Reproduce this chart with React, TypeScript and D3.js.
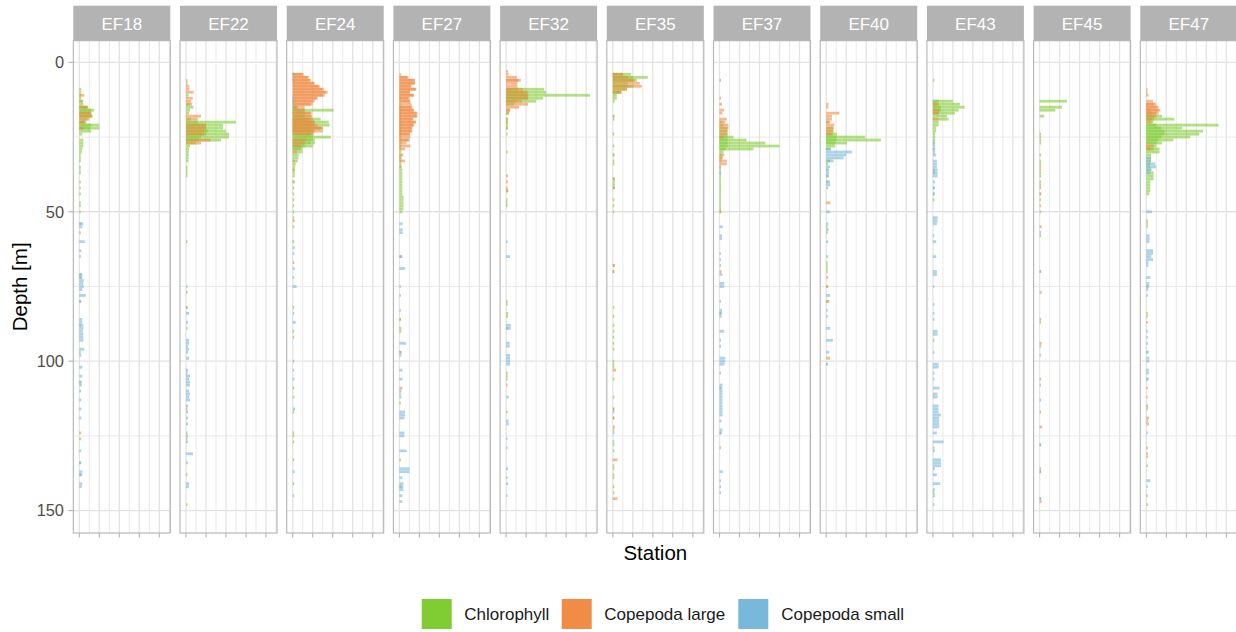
import React from "react";
import * as d3 from "d3";

type Pt = [number, number]; // [depth in m, relative abundance]

const STATIONS = ["EF18", "EF22", "EF24", "EF27", "EF32", "EF35", "EF37", "EF40", "EF43", "EF45", "EF47"];
const GROUPS = ["Chlorophyll", "Copepoda large", "Copepoda small"];
const GROUP_COLORS = ["#80CC33", "#F08C46", "#78B8DB"];
const DEPTH_TICKS = [0, 50, 100, 150];
const DEPTH_MINOR = [25, 75, 125];
const VALUE_TICKS = [0, 20, 40, 60, 80];
const VALUE_MINOR = [10, 30, 50, 70, 90];

// ---- EF18
const EF18_CHL: Pt[] = [[9,2],[10,2],[11,2],[12,2],[13,4],[14,4],[15,9],[15,8],[16,15],[16,12],[17,12],[17,11],[18,13],[18,12],[19,8],[20,6],[20,5],[21,20],[21,12],[22,20],[22,11],[23,12],[24,3],[26,4],[27,4],[28,4],[29,3],[30,2.5],[31,1.5],[32,1.5],[33,1.5],[35,1.5],[37,1.5],[40,1.5],[42,1.5],[44,1.5],[47,1.5],[48,1.5],[50,1.5],[54,2],[57,1.5],[71,2],[72,2],[80,1.5],[88,1.5],[97,1.5],[107,1.5],[126,2],[134,1.5],[138,2]];
const EF18_LARGE: Pt[] = [[11,5],[13,3],[15,8],[17,12],[18,13],[19,10],[20,7],[22,4],[124,2]];
const EF18_SMALL: Pt[] = [[36,1.5],[54,4],[55,3],[60,5.5],[63,2],[65,1.5],[71,3],[72,3],[73,4.5],[74,4],[75,4.5],[76,3],[78,6.5],[80,2],[86,3],[87,3],[88,4],[89,4],[90,3.5],[91,4],[92,4],[93,4],[96,5],[98,2],[102,3],[105,3],[107,2.5],[108,2.5],[110,2],[113,2],[116,2],[119,2],[130,2],[134,2],[137,3],[138,3],[141,3],[142,2.5]];

// ---- EF22
const EF22_CHL: Pt[] = [[6,1.5],[7,1.5],[11,2.7],[14,4],[15,7.5],[16,4],[17,3],[19,5],[20,50],[20,12],[21,37],[21,20],[22,37],[22,20],[23,40],[23,22],[24,43],[24,20],[25,43],[25,15],[26,35],[26,13],[27,10],[28,4],[29,3],[30,2.7],[31,2.7],[32,2.5],[33,2.5],[35,1.5],[36,1.5],[37,1.5],[38,1.5],[60,1.5],[77,1.5],[82,1.5],[89,1.5],[124,1.5],[138,1.5],[148,1.5]];
const EF22_LARGE: Pt[] = [[8,3.3],[9,3.3],[10,7.7],[12,6.7],[13,5],[14,6],[18,15],[19,11.7],[21,20],[22,20],[23,18],[24,18],[26,25],[27,15],[82,1.5],[104,1.5],[116,1.5],[126,1.5]];
const EF22_SMALL: Pt[] = [[75,1.5],[84,3],[87,2],[93,3],[94,3],[95,2],[96,3],[97,2],[99,3],[103,2],[105,4],[106,3],[107,4],[108,4],[110,3],[111,4],[112,3],[113,4],[115,2],[117,2],[119,2],[121,2],[125,2],[127,2],[131,7],[134,2],[141,3],[142,3]];

// ---- EF24
const EF24_CHL: Pt[] = [[4,2],[6,2],[13,2],[15,5],[15,4],[16,41],[16,12],[17,12],[18,19],[18,12],[19,28],[19,15],[20,36],[20,22],[21,37],[21,20],[22,30],[22,18],[23,21],[23,20],[24,21],[24,18],[25,38],[25,20],[26,22],[26,20],[27,22],[27,18],[28,20],[28,12],[29,10],[29,8],[30,10],[31,6],[32,5.7],[33,5],[34,3],[35,2.5],[36,2],[37,2],[38,2],[40,2],[42,1.5],[44,1.5],[46,1.5],[48,1.5],[50,1.5],[52,1.5],[55,1.5],[60,1.5],[82,1.5],[90,1.5],[109,1.5],[112,1.5],[117,1.5],[124,1.5],[127,1.5],[133,1.5],[141,1.5]];
const EF24_LARGE: Pt[] = [[4,11],[4,10],[5,16],[5,15],[6,18],[6,17],[7,22],[7,21],[8,27],[8,26],[9,31],[9,30],[10,35],[10,33],[11,32],[11,30],[12,25],[12,24],[13,22],[13,20],[14,20],[14,18],[15,12],[16,12],[17,19],[17,18],[18,19],[19,20],[19,18],[20,22],[20,20],[21,25],[21,22],[22,30],[22,28],[23,30],[23,22],[24,20],[26,14],[27,12],[28,8],[30,4],[33,2],[36,2],[40,1.5],[53,2],[67,1.5],[92,1.5],[125,1.5]];
const EF24_SMALL: Pt[] = [[4,1.5],[12,1.5],[14,1.5],[62,2],[64,1.5],[69,2],[72,1.5],[75,4],[84,1.5],[87,3],[100,1.5],[103,1.5],[106,1.5],[116,2.5],[137,2],[145,1.5]];

// ---- EF27
const EF27_CHL: Pt[] = [[12,1.5],[14,1.5],[15,2],[16,2],[17,2],[18,2],[19,2],[20,2],[21,2],[22,2],[23,2],[24,2],[25,2],[26,2],[27,2],[28,2],[29,2],[30,2],[31,2],[32,2],[33,2],[34,2],[35,2],[36,3],[37,3],[38,3],[39,3],[40,3],[41,3],[42,3],[43,3],[44,3],[45,4],[46,4],[47,4],[48,4],[49,4],[50,3],[65,2],[86,1.5],[89,2],[90,2],[111,1.5],[114,1.5],[133,1.5],[142,2]];
const EF27_LARGE: Pt[] = [[4,1.5],[5,9],[5,8],[6,15.7],[6,15],[7,15.7],[7,15],[8,12],[8,11],[9,17],[9,16],[10,10.7],[10,10],[11,14.7],[11,14],[12,10],[12,9],[13,11],[13,10],[14,12],[15,13],[15,12],[16,14.7],[16,14],[17,18],[17,17],[18,18],[18,17],[19,14],[19,13],[20,16.7],[20,16],[21,14.7],[21,14],[22,13],[22,12],[23,13],[23,12],[24,10.7],[24,10],[25,11],[26,10],[26,9],[27,7],[28,11],[29,5.7],[31,4],[32,2],[33,5.7],[35,2],[86,1.5],[97,2],[109,3]];
const EF27_SMALL: Pt[] = [[54,3.3],[56,3.3],[57,3.3],[65,3],[69,5.7],[75,1.5],[78,1.5],[83,1.5],[94,6.7],[97,2],[98,2],[103,3],[106,3],[110,2],[112,2],[117,5.7],[118,5.7],[119,5],[124,5],[125,5],[130,7.3],[136,10],[137,10],[139,3],[141,4],[142,4],[143,4],[145,3],[147,3]];

// ---- EF32
const EF32_CHL: Pt[] = [[9,38],[9,12],[10,40],[10,20],[11,84],[11,22],[12,37],[12,22],[13,30],[13,10],[14,8],[16,4],[17,3],[19,2],[20,2],[21,2],[22,2],[24,1.5],[30,1.5],[43,2],[46,1.5],[47,1.5],[48,1.5],[80,1.5],[81,1.5],[84,2],[85,2],[89,2],[104,1.5],[106,1.5],[117,1.5],[139,1.5]];
const EF32_LARGE: Pt[] = [[3,2],[4,2.3],[5,10.7],[6,14.7],[6,12],[7,11.3],[8,11.3],[9,16.7],[10,22],[11,22],[12,22],[13,16],[14,22],[15,13],[16,4],[17,3],[19,1.5],[20,1.5],[22,1.5],[38,2],[40,2],[42,1.5],[43,2],[105,1.5],[108,1.5]];
const EF32_SMALL: Pt[] = [[60,1.5],[65,4],[88,4.7],[89,4.7],[94,3.5],[95,3.5],[98,4],[99,4],[100,4],[101,4],[112,2.5],[120,2.5],[121,2.5],[126,1.5],[129,1.5],[136,2],[141,2],[145,1.5]];

// ---- EF35
const EF35_CHL: Pt[] = [[4,18],[4,10],[5,35],[5,20],[6,24],[6,20],[7,15],[8,20.7],[8,15],[9,14],[10,9],[10,8],[11,4],[12,4],[13,2],[18,1.5],[19,1.5],[24,1.5],[28,1.5],[31,1.5],[34,1.5],[39,2],[40,2],[41,2],[42,2],[48,1.5],[50,1.5],[68,2],[70,1.5],[82,1.5],[88,1.5],[90,1.5],[92,1.5],[94,1.5],[96,1.5],[100,1.5],[101,1.5],[102,1.5],[106,1.5],[116,1.5],[119,1.5],[123,1.5],[128,1.5],[136,1.5],[139,1.5],[142,1.5]];
const EF35_LARGE: Pt[] = [[4,10],[5,15],[6,22],[7,27],[8,29],[9,14],[10,8],[18,1.5],[31,1.5],[33,1.5],[39,2],[42,2],[46,1.5],[68,2],[70,1.5],[85,1.5],[103,3.3],[112,1.5],[116,1.5],[119,1.5],[122,2],[133,4.7],[135,1.5],[138,1.5],[144,1.5],[146,4.7]];
const EF35_SMALL: Pt[] = [[117,1.5],[124,1.5],[127,1.5],[130,1.5]];

// ---- EF37
const EF37_CHL: Pt[] = [[6,1.5],[20,3],[21,4],[22,8],[23,8],[24,8],[25,14],[25,8],[26,27],[26,8],[27,45.7],[27,8],[28,60],[28,8],[29,34],[29,6],[30,4],[31,3],[32,3],[33,2],[35,1.5],[36,1.5],[37,1.5],[38,1.5],[39,1.5],[40,1.5],[41,1.5],[42,1.5],[43,1.5],[44,1.5],[45,1.5],[46,1.5],[47,1.5],[48,1.5],[49,1.5],[50,1.5],[84,1.5],[95,1.5],[109,1.5],[124,1.5]];
const EF37_LARGE: Pt[] = [[12,1.5],[14,2.5],[16,4.7],[17,3],[19,7.3],[20,5.7],[21,9],[22,9],[23,8],[24,8],[25,4],[31,4.7],[32,3],[33,7.3],[34,7.3],[50,2],[70,2],[104,1.5],[129,1.5]];
const EF37_SMALL: Pt[] = [[35,1.5],[37,1.5],[55,3.3],[58,2.5],[59,2.5],[64,1.5],[66,1.5],[68,1.5],[71,3],[74,4.7],[75,4.7],[80,1.5],[83,2.5],[84,2.5],[85,2],[90,4.7],[93,1.5],[99,5.7],[100,5.7],[101,5],[108,3],[109,3],[110,3],[111,3],[112,3],[113,3],[114,3],[115,3],[116,3],[117,3],[118,3],[120,2],[123,3],[124,2.5],[137,3.3],[140,1.5],[142,1.5],[144,1.5]];

// ---- EF40
const EF40_CHL: Pt[] = [[20,3],[22,7.3],[23,7],[24,10.7],[24,7],[25,39],[25,10],[26,54.7],[26,10],[27,20.7],[27,9],[28,9],[29,4],[33,4],[34,2],[36,1.5],[38,2],[40,2],[55,1.5],[57,1.5],[67,1.5],[68,1.5],[69,1.5],[70,1.5],[75,1.5],[80,2],[101,1.5]];
const EF40_LARGE: Pt[] = [[14,2.3],[15,2.3],[17,13.3],[18,5.7],[19,5.7],[20,4],[21,8],[22,7.3],[23,7.3],[24,5],[47,4],[72,2],[75,2],[80,3],[99,4]];
const EF40_SMALL: Pt[] = [[29,4.7],[30,25.7],[31,20],[32,17.3],[33,7.3],[35,4],[36,3],[37,3],[38,2.7],[40,4],[41,4],[42,2],[50,4],[54,2],[56,2.5],[60,2],[65,2],[78,4],[83,1.5],[85,1.5],[89,4],[93,6.7],[97,3],[101,1.5]];

// ---- EF43
const EF43_CHL: Pt[] = [[6,1.5],[13,20],[13,6],[14,27],[14,6],[15,31.7],[15,8],[16,25.7],[16,8],[17,22],[17,6],[18,14],[19,15.7],[20,5.7],[21,5.7],[22,3.3],[23,3.3],[24,2.3],[25,2.3],[26,2.3],[27,1.5],[29,1.5],[36,2],[37,2],[42,1.5],[44,1.5],[46,1.5],[93,1.5],[129,1.5],[144,1.5]];
const EF43_LARGE: Pt[] = [[14,4],[16,6.7],[17,5.7],[19,5.7]];
const EF43_SMALL: Pt[] = [[27,2.3],[28,2.3],[29,2.3],[30,2.3],[31,3.3],[33,4],[34,4],[35,4],[36,4.7],[37,4.7],[38,4.7],[40,2],[42,2],[44,2],[52,4.7],[53,4.7],[54,4],[58,1.5],[60,3.3],[65,3.3],[70,4],[71,4],[75,1.5],[81,1.5],[84,1.5],[86,1.5],[90,4.7],[91,4.7],[97,1.5],[101,5.7],[102,5.7],[104,1.5],[106,1.5],[109,6.7],[111,4.7],[112,4.7],[115,5.7],[116,5.7],[117,5.7],[118,8],[119,6.3],[120,6.3],[121,6.3],[122,6.3],[124,4],[127,10.7],[130,2],[133,8],[134,8],[135,8],[136,2],[138,4],[141,7.3],[143,2],[145,2],[148,1.5]];

// ---- EF45
const EF45_CHL: Pt[] = [[13,27.3],[15,22.3],[16,15.7],[18,4.7],[24,1.5],[25,1.5],[26,1.5],[27,1.5],[31,1.5],[33,1.5],[34,1.5],[36,1.5],[37,1.5],[38,1.5],[40,1.5],[44,1.5],[46,1.5],[50,1.5],[58,1.5],[70,1.5],[87,1.5],[95,1.5],[106,1.5],[128,1.5],[137,1.5],[146,1.5]];
const EF45_LARGE: Pt[] = [[35,1.5],[41,1.5],[42,1.5],[44,1.5],[48,1.5],[55,2],[77,2],[86,1.5],[94,2],[117,1.5],[122,2.7],[136,1.5],[147,2]];
const EF45_SMALL: Pt[] = [[57,1.5],[70,1.5],[98,1.5],[108,1.5],[113,1.5],[128,1.5],[137,1.5],[146,1.5]];

// ---- EF47
const EF47_CHL: Pt[] = [[14,2],[16,4],[17,6],[18,15.7],[18,8],[19,28],[19,8],[20,7],[21,72.3],[21,10],[22,35.7],[22,15],[23,56.7],[23,18],[24,53],[24,18],[25,44],[25,15],[26,27],[26,12],[27,15.7],[27,10],[28,10],[29,13.3],[29,8],[30,13.3],[31,4.7],[32,4.7],[33,4.7],[34,4],[35,4],[36,5],[37,7.3],[38,7.3],[39,7.3],[40,4],[41,4],[42,4],[43,4],[44,3],[53,1.5],[55,1.5],[75,1.5],[84,1.5],[85,1.5],[97,1.5],[106,1.5],[115,1.5],[135,1.5],[145,1.5],[148,1.5]];
const EF47_LARGE: Pt[] = [[9,1.3],[10,1.3],[11,2.3],[13,6.7],[14,10],[14,8],[15,12.3],[15,10],[16,14],[16,12],[17,12.3],[17,10],[18,10],[19,6],[20,5],[28,7.3],[29,4.7],[54,1.5],[87,1.5],[109,1.5],[112,1.5],[116,1.5],[119,2.7],[121,2.7],[129,1.5],[131,1.5],[132,1.5]];
const EF47_SMALL: Pt[] = [[32,4.7],[33,4.7],[34,9],[35,10],[36,5],[37,4],[50,5.7],[58,3.3],[59,3.3],[60,3.3],[63,6.7],[64,6.7],[65,5],[66,6.7],[67,2],[68,2],[72,4],[74,3],[75,3],[76,2],[78,1.5],[90,1.5],[92,1.5],[94,1.5],[97,2.5],[99,3],[100,3],[103,2.5],[104,2.5],[106,2.5],[115,1.5],[120,2],[124,1.5],[140,4],[142,1.5]];

const PROFILES: Record<string, Pt[][]> = {
  EF18: [EF18_CHL, EF18_LARGE, EF18_SMALL],
  EF22: [EF22_CHL, EF22_LARGE, EF22_SMALL],
  EF24: [EF24_CHL, EF24_LARGE, EF24_SMALL],
  EF27: [EF27_CHL, EF27_LARGE, EF27_SMALL],
  EF32: [EF32_CHL, EF32_LARGE, EF32_SMALL],
  EF35: [EF35_CHL, EF35_LARGE, EF35_SMALL],
  EF37: [EF37_CHL, EF37_LARGE, EF37_SMALL],
  EF40: [EF40_CHL, EF40_LARGE, EF40_SMALL],
  EF43: [EF43_CHL, EF43_LARGE, EF43_SMALL],
  EF45: [EF45_CHL, EF45_LARGE, EF45_SMALL],
  EF47: [EF47_CHL, EF47_LARGE, EF47_SMALL],
};

const W = 1236;
const H = 632;
const FONT = "'Liberation Sans', Arial, Helvetica, sans-serif";
const PANEL_TOP = 40.7;
const PANEL_BOTTOM = 533;
const STRIP_TOP = 5.7;
const GRID = "#E3E3E3";
const BORDER = "#B3B3B3";
const BAR_ALPHA = 0.6;
const BAR_WIDTH = 0.95; // in metres

const LEGEND_ITEMS = [
  { key: 421.7, text: 464.3 },
  { key: 561.7, text: 604.3 },
  { key: 738.3, text: 781.3 },
];

export default function App() {
  const xBand = d3.scaleBand<string>().domain(STATIONS).range([73.3, 1237.3]).paddingInner(0.0909).paddingOuter(0);
  const y = d3.scaleLinear().domain([-7.25, 157.5]).range([PANEL_TOP, PANEL_BOTTOM]);
  const bw = xBand.bandwidth();

  return (
    <svg width={W} height={H} style={{ position: "absolute", left: 0, top: 0, background: "#FFFFFF" }} fontFamily={FONT}>
      <rect x={0} y={0} width={W} height={H} fill="#FFFFFF" />
      {STATIONS.map((st) => {
        const left = xBand(st)!;
        const x = d3.scaleLinear().domain([-6, 91]).range([left, left + bw]);
        const series = PROFILES[st];
        return (
          <g key={st}>
            {/* grid */}
            {VALUE_MINOR.map((v) => (
              <line key={"vm" + v} x1={x(v)} x2={x(v)} y1={PANEL_TOP} y2={PANEL_BOTTOM} stroke={GRID} strokeWidth={0.8} />
            ))}
            {DEPTH_MINOR.map((d) => (
              <line key={"hm" + d} x1={left} x2={left + bw} y1={y(d)} y2={y(d)} stroke={GRID} strokeWidth={0.8} />
            ))}
            {VALUE_TICKS.map((v) => (
              <line key={"vM" + v} x1={x(v)} x2={x(v)} y1={PANEL_TOP} y2={PANEL_BOTTOM} stroke={GRID} strokeWidth={1.3} />
            ))}
            {DEPTH_TICKS.map((d) => (
              <line key={"hM" + d} x1={left} x2={left + bw} y1={y(d)} y2={y(d)} stroke={GRID} strokeWidth={1.3} />
            ))}
            {/* bars */}
            {series.map((pts, gi) =>
              pts.map(([d, v], i) => (
                <rect
                  key={gi + "-" + i}
                  x={x(0)}
                  y={y(d - BAR_WIDTH / 2)}
                  width={x(v) - x(0)}
                  height={y(d + BAR_WIDTH / 2) - y(d - BAR_WIDTH / 2)}
                  fill={GROUP_COLORS[gi]}
                  fillOpacity={BAR_ALPHA}
                />
              ))
            )}
            {/* border */}
            <rect x={left} y={PANEL_TOP} width={bw} height={PANEL_BOTTOM - PANEL_TOP} fill="none" stroke={BORDER} strokeWidth={1.1} />
            {/* strip */}
            <rect x={left} y={STRIP_TOP} width={bw} height={PANEL_TOP - STRIP_TOP} fill="#B3B3B3" />
            <text x={left + bw / 2} y={30} textAnchor="middle" fontSize={17} fill="#FFFFFF">
              {st}
            </text>
            {/* bottom ticks */}
            {VALUE_TICKS.map((v) => (
              <line key={"t" + v} x1={x(v)} x2={x(v)} y1={PANEL_BOTTOM} y2={PANEL_BOTTOM + 4.5} stroke={BORDER} strokeWidth={1.1} />
            ))}
          </g>
        );
      })}
      {/* y axis */}
      {DEPTH_TICKS.map((d) => (
        <g key={"ya" + d}>
          <line x1={68.5} x2={73.3} y1={y(d)} y2={y(d)} stroke={BORDER} strokeWidth={1.1} />
          <text x={64} y={y(d)} dy="0.36em" textAnchor="end" fontSize={16.4} fill="#4D4D4D">
            {d}
          </text>
        </g>
      ))}
      <text transform={`translate(27,${(PANEL_TOP + PANEL_BOTTOM) / 2}) rotate(-90)`} textAnchor="middle" fontSize={20.5} fill="#000000">
        Depth [m]
      </text>
      <text x={(73.3 + 1237.3) / 2} y={560} textAnchor="middle" fontSize={20.5} fill="#000000">
        Station
      </text>
      {/* legend */}
      {GROUPS.map((g, i) => (
        <g key={g}>
          <rect x={LEGEND_ITEMS[i].key} y={599} width={30} height={30} fill={GROUP_COLORS[i]} />
          <text x={LEGEND_ITEMS[i].text} y={614} dy="0.36em" fontSize={17} fill="#1A1A1A">
            {g}
          </text>
        </g>
      ))}
    </svg>
  );
}
